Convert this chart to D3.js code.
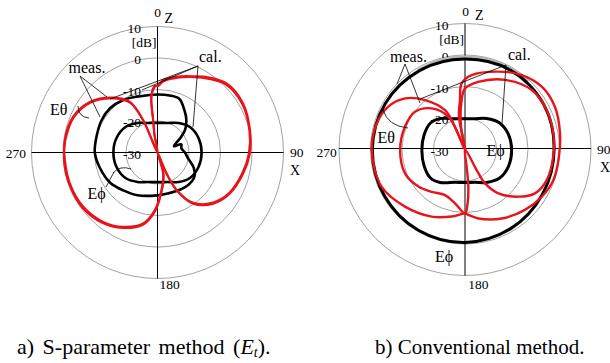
<!DOCTYPE html>
<html><head><meta charset="utf-8">
<script src="https://cdn.jsdelivr.net/npm/d3@7"></script>
<style>
body{margin:0;background:#fff}
svg{display:block}
</style></head>
<body><svg id="c" width="610" height="363"></svg>
<script>
// ---------- data ----------
const ringValues = [10, 0, -10, -20];
const ringLabels = ["10", "0", "-10", "-20", "-30"];
const ringLabelValues = [10, 0, -10, -20, -30];
const dbDomain = [-30, 10];
const axisLabels = ["0", "90", "180", "270"];

// (a) S-parameter method
const aRedCalAng = [0.6, 4.5, 14.1, 25, 31.1, 45, 60.2, 76.4, 90.6, 103.8, 119.5, 132.5, 145, 153.2, 156.8, 160, 164.9, 174, 182.6, 191.4, 204.8, 218.1, 233.8, 250.5, 265.3, 277.6, 292.9, 306.8, 321.1, 331.4, 336.1, 340, 350.3, 352.4, 353.8, 357.7];
const aRedCalDb  = [-8.6, -7.0, -5.2, -3.3, -1.9, 1.0, 1.3, 0.2, -0.7, -2.0, -3.6, -6.0, -10.2, -16.6, -22.8, -30, -23.1, -18.0, -11.7, -7.0, -4.0, -2.0, -0.8, -0.5, -0.5, -0.3, -0.9, -3.2, -7.6, -11.7, -18.8, -30, -25, -19.6, -12.2, -9.1];
const aRedMeasDb = [-8.9, -7.4, -5.6, -3.6, -2.3, 0.6, 1.0, 0.0, -1.0, -2.3, -3.9, -6.4, -10.6, -17.0, -23.0, -30, -22.5, -17.5, -11.2, -6.6, -3.6, -1.6, -0.4, -0.2, -0.2, -0.5, -1.2, -3.5, -8.0, -12.2, -19.5, -30, -24, -19.0, -11.8, -8.8];
const aBlkThAng = [0, 12, 22, 33, 42, 51, 58, 69, 71, 80, 90, 101, 113, 123, 136, 151, 166, 180, 205, 222, 237, 256, 270, 284, 300, 313, 327, 343];
const aBlkThDb  = [-11.6, -11.5, -11.6, -14.2, -16.3, -18.8, -21.6, -24.4, -22.0, -22.3, -21.3, -20.1, -17.5, -16.0, -15.8, -16.3, -16.6, -16.4, -15.0, -13.8, -12.2, -11.0, -10.1, -10.0, -9.5, -9.4, -10.1, -11.3];
const aBlkPhAng = [0, 18.7, 35.4, 51.9, 70.2, 90, 109.8, 128.1, 144.6, 161.3, 180, 198.7, 214.1, 231.4, 250.1, 270, 289.9, 308.6, 325.9, 341.3];
const aBlkPhDb  = [-20.6, -20.1, -18.5, -16.9, -16.2, -16.0, -16.2, -16.9, -18.5, -20.1, -20.6, -20.1, -18.7, -17.0, -16.2, -16.0, -16.2, -17.0, -18.7, -20.1];

// (b) Conventional method
const bRedCalAng = [5.1, 23.2, 37.3, 50.7, 64.6, 80.3, 94.4, 109, 121.6, 135.2, 152, 169, 177.1, 180, 191.2, 206.4, 226.4, 246, 269.7, 286.5, 299.2, 310.5, 321, 333.1, 336.3, 340, 349.6, 354.2, 357.1];
const bRedCalDb  = [-6.3, -3.1, -0.3, 1.5, 1.6, 0.6, -0.1, -0.3, -1.4, -3.0, -5.2, -7.7, -9.2, -9.7, -8.3, -6.2, -3.7, -1.0, -0.4, -0.8, -2.1, -5.0, -9.8, -16.0, -22.1, -30, -19.4, -14.2, -9.0];
const bRedMeasAng = [0, 11.1, 29.9, 48.3, 64.2, 79.6, 94.6, 110.5, 122.1, 131.5, 142.7, 149.4, 150.4, 153, 174.5, 174.9, 177.2, 180, 190.5, 203.7, 218.3, 231.5, 248.3, 269.5, 290.8, 307.1, 321, 333.1, 336, 342, 350, 356.1];
const bRedMeasDb  = [-10.6, -8.1, -4.5, -1.6, -1.2, -1.5, -1.9, -2.3, -3.8, -7.4, -12.5, -17.5, -22.5, -30, -24.5, -18.2, -12.9, -9.7, -12.6, -14.2, -12.9, -11.1, -9.5, -9.4, -9.6, -10.1, -13.2, -18.3, -25.4, -30, -22.6, -14.3];
const bBlkOutAng = [0, 30, 60, 90, 120, 150, 180, 210, 240, 270, 300, 330];
const bBlkOutDb  = [-1.3, -1.0, -1.2, -1.7, -1.6, -1.0, -0.5, -0.4, -0.5, -0.6, -0.8, -1.1];
const bGrayAng = [330, 345, 0, 15, 30, 42];
const bGrayDb  = [-0.8, -0.6, -0.6, -0.5, -0.4, -0.5];
const bBlkPhAng = [0, 17.9, 35, 52, 70.9, 91.2, 111.4, 130, 146.7, 163.1, 180, 196.9, 217.1, 230, 247.4, 268.7, 290.2, 308, 321.1, 342.1];
const bBlkPhDb  = [-20.2, -19.7, -18.0, -16.2, -15.4, -15.2, -15.2, -15.8, -17.5, -19.1, -19.5, -19.1, -16.9, -15.8, -16.0, -16.3, -16.2, -16.2, -17.4, -19.7];

const captions = ["a) S-parameter method (", ")."];
const captionB = "b) Conventional method.";

// ---------- drawing ----------
const FONT = "'Liberation Serif'";
const svg = d3.select("#c");
const RED = "#e8141b";
const R = 126;
const r = d3.scaleLinear().domain(dbDomain).range([0, R]).clamp(true);
const toRad = a => a * Math.PI / 180;
const radial = d3.lineRadial().angle(d => toRad(d[0])).radius(d => r(d[1]));

function T(sel) { return sel.style("font-family", FONT).attr("fill", "#000"); }

function drawPolar(cx, cy, o) {
  const g = svg.append("g").attr("transform", `translate(${cx},${cy})`);
  g.selectAll("circle.ring").data(ringValues).join("circle")
    .attr("r", d => r(d)).attr("fill", "none").attr("stroke", "#8a8a8a").attr("stroke-width", 0.8);
  g.append("line").attr("x1", -R).attr("x2", R).attr("y1", o.axY).attr("y2", o.axY).attr("stroke", "#000").attr("stroke-width", 1);
  g.append("line").attr("y1", -R).attr("y2", R).attr("stroke", "#000").attr("stroke-width", 1);
  const fs = "13.5px";
  T(g.selectAll("text.rl").data(ringLabelValues).join("text"))
    .attr("x", -16.5).attr("y", d => -r(d) + 1.5).attr("dy", "0.35em")
    .attr("text-anchor", "end").style("font-size", fs).text((d, i) => ringLabels[i]);
  T(g.append("text")).attr("x", -1).attr("y", -106).attr("text-anchor", "end").style("font-size", fs).text("[dB]");
  T(g.append("text")).attr("x", o.t0[0]).attr("y", o.t0[1]).attr("text-anchor", "middle").style("font-size", fs).text(axisLabels[0]);
  T(g.append("text")).attr("x", o.tZ[0]).attr("y", o.tZ[1]).style("font-size", "14px").text("Z");
  T(g.append("text")).attr("x", o.t90[0]).attr("y", o.t90[1]).style("font-size", fs).text(axisLabels[1]);
  T(g.append("text")).attr("x", o.tX[0]).attr("y", o.tX[1]).style("font-size", "14px").text("X");
  T(g.append("text")).attr("x", o.t180[0]).attr("y", o.t180[1]).style("font-size", fs).text(axisLabels[2]);
  T(g.append("text")).attr("x", o.t270[0]).attr("y", o.t270[1]).attr("text-anchor", "end").style("font-size", fs).text(axisLabels[3]);
  return g;
}

function curve(g, ang, db, color, w, closed) {
  const pts = d3.zip(ang, db);
  const gen = radial.curve(closed ? d3.curveCatmullRomClosed.alpha(0.5) : d3.curveCatmullRom.alpha(0.5));
  g.append("path").attr("d", gen(pts)).attr("fill", "none").attr("stroke", color)
    .attr("stroke-width", w).attr("stroke-linejoin", "round").attr("stroke-linecap", "round");
}

// ---- (a)
const ga = drawPolar(157.5, 152.5, {axY: 0, t0: [0, -135.5], tZ: [7, -130], t90: [132.5, 4], tX: [132.5, 22.5], t180: [2, 136], t270: [-131.5, 5.5]});
curve(ga, aBlkPhAng, aBlkPhDb, "#000", 2.6, true);
curve(ga, aBlkThAng, aBlkThDb, "#000", 2.6, true);
curve(ga, aRedCalAng, aRedCalDb, RED, 2.2, true);
curve(ga, aRedCalAng, aRedMeasDb, RED, 2.0, true);

// ---- (b)
const gb = drawPolar(465, 149.5, {axY: -1, t0: [0.5, -134], tZ: [10, -130], t90: [132, 4], tX: [135, 22.5], t180: [3.3, 139], t270: [-128.3, 7.5]});
curve(gb, bGrayAng, bGrayDb, "#b5b5b5", 3, false);
curve(gb, bBlkOutAng, bBlkOutDb, "#000", 3, true);
curve(gb, bBlkPhAng, bBlkPhDb, "#000", 3, true);
curve(gb, bRedCalAng, bRedCalDb, RED, 2.4, true);
curve(gb, bRedMeasAng, bRedMeasDb, RED, 2.4, true);

// ---- annotations
function txt(x, y, s, size) { return T(svg.append("text")).attr("x", x).attr("y", y).style("font-size", size || "16px").text(s); }
function ln(x1, y1, x2, y2) { svg.append("line").attr("x1", x1).attr("y1", y1).attr("x2", x2).attr("y2", y2).attr("stroke", "#000").attr("stroke-width", 0.8); }
function pth(d) { svg.append("path").attr("d", d).attr("fill", "none").attr("stroke", "#000").attr("stroke-width", 0.8); }

txt(68.5, 72.5, "meas.");
ln(80, 76, 107, 97); ln(80, 76, 100, 117);
txt(199, 61.5, "cal.");
ln(198, 66, 110, 99); ln(198, 66, 142, 90); ln(198, 66, 193, 127);
txt(50, 114.5, "Eθ");
pth("M78,106 Q78,117 89,118");
txt(87.5, 199, "Eϕ");
ln(106, 187, 114, 172); pth("M113,173 Q120,165 131,169");

txt(390, 61.5, "meas.");
ln(405, 64, 397, 84); ln(405, 64, 420, 103);
txt(508, 60, "cal.");
ln(506, 65, 420, 99); ln(506, 65, 502, 124);
txt(377.5, 143, "Eθ");
pth("M383,110 Q388,126 408,128");
txt(486.5, 156, "Eϕ");
txt(435, 262, "Eϕ");

// captions
const ca = T(svg.append("text")).attr("x", 17).attr("y", 354).style("font-size", "22px").style("word-spacing", "3px");
ca.append("tspan").text(captions[0]);
ca.append("tspan").style("font-style", "italic").text("E");
ca.append("tspan").style("font-style", "italic").style("font-size", "14px").attr("dy", 3).text("t");
ca.append("tspan").attr("dy", -3).text(captions[1]);
T(svg.append("text")).attr("x", 375).attr("y", 354).style("font-size", "21px").text(captionB);
</script></body></html>
